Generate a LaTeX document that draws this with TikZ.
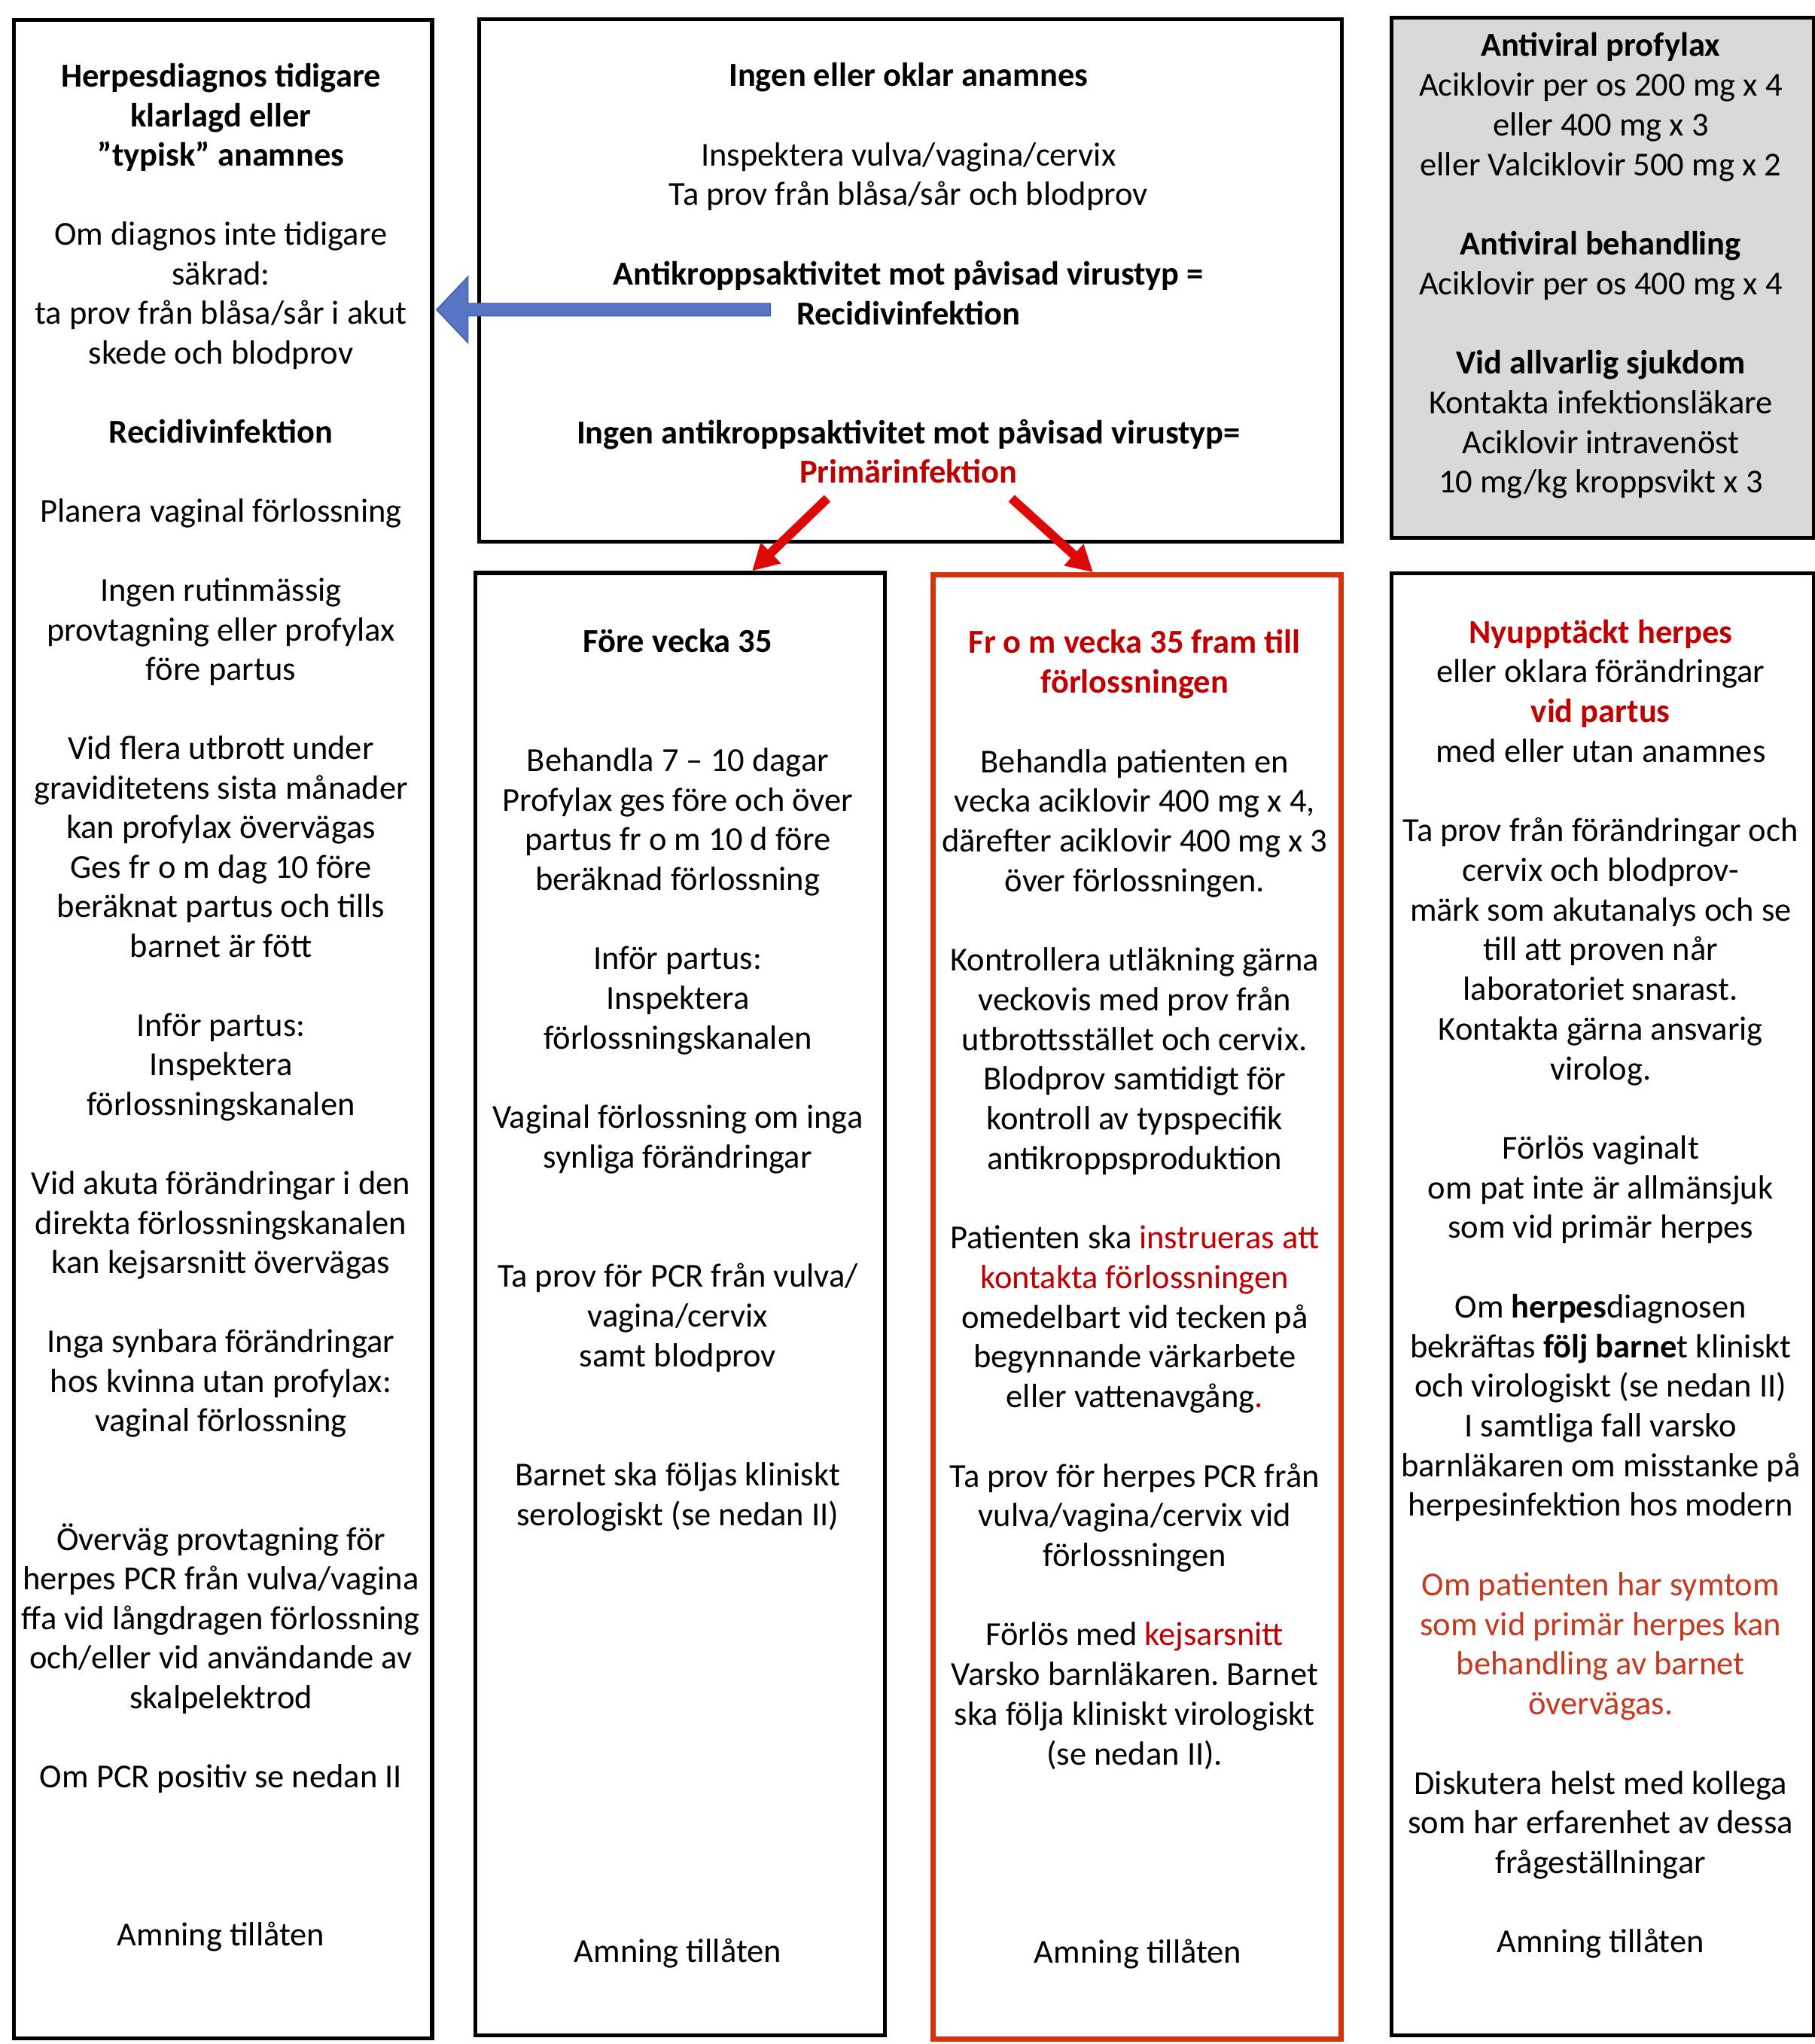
\documentclass[tikz,border=0pt]{standalone}
\usepackage{fontspec}
\setmainfont{Carlito}
\usetikzlibrary{arrows.meta,calc}
\frenchspacing
\definecolor{redtxt}{RGB}{192,0,0}
\definecolor{orangered}{RGB}{197,57,31}
\definecolor{redframe}{RGB}{214,50,14}
\definecolor{arrowred}{RGB}{222,8,8}
\definecolor{grayfill}{RGB}{217,217,217}
\definecolor{bluefill}{RGB}{88,117,196}
\definecolor{blueline}{RGB}{70,98,172}
\newlength\gapN \setlength\gapN{30.45pt}
\newlength\gapL \setlength\gapL{30.34pt}
\begin{document}
\begin{tikzpicture}[x=1pt,y=-1pt,
  box/.style={draw=black, line width=3pt, rectangle, inner sep=0pt, anchor=north west},
  txt/.style={anchor=north, inner sep=0pt, align=center,
    font={\fontsize{25.7}{30.45}\selectfont\frenchspacing}},
  txtL/.style={anchor=north, inner sep=0pt, align=center,
    font={\fontsize{25.7}{30.34}\selectfont\frenchspacing}},
  redarrow/.style={draw=arrowred, line width=7pt, -{Triangle[width=21pt,length=20pt]}},
]
\useasboundingbox (0,0) rectangle (1392,1568);

% boxes
\node[box, minimum width=321pt, minimum height=1548pt] (L) at (9,14) {};
\node[box, minimum width=662pt, minimum height=401pt] (T) at (366,13) {};
\node[box, fill=grayfill, minimum width=324pt, minimum height=399pt] (G) at (1066,12) {};
\node[box, minimum width=314.5pt, minimum height=1122pt] (M) at (363,438) {};
\node[box, draw=redframe, line width=4pt, minimum width=313pt, minimum height=1123pt] (R) at (714,439) {};
\node[box, minimum width=324pt, minimum height=1121.5pt] (Q) at (1066,438.5) {};

% texts
\node[txtL] (Ltxt) at (169.5,45.3) {\strut\textbf{Herpesdiagnos tidigare}\\
\textbf{klarlagd eller}\\
\textbf{”typisk” anamnes}\\[\gapL]
Om diagnos inte tidigare\\
säkrad:\\
ta prov från blåsa/sår i akut\\
skede och blodprov\\[\gapL]
\textbf{Recidivinfektion}\\[\gapL]
Planera vaginal förlossning\\[\gapL]
Ingen rutinmässig\\
provtagning eller profylax\\
före partus\\[\gapL]
Vid flera utbrott under\\
graviditetens sista månader\\
kan profylax övervägas\\
Ges fr o m dag 10 före\\
beräknat partus och tills\\
barnet är fött\\[\gapL]
Inför partus:\\
Inspektera\\
förlossningskanalen\\[\gapL]
Vid akuta förändringar i den\\
direkta förlossningskanalen\\
kan kejsarsnitt övervägas\\[\gapL]
Inga synbara förändringar\\
hos kvinna utan profylax:\\
vaginal förlossning\\[2\gapL]
Överväg provtagning för\\
herpes PCR från vulva/vagina\\
ffa vid långdragen förlossning\\
och/eller vid användande av\\
skalpelektrod\\[\gapL]
Om PCR positiv se nedan II\\[3\gapL]
Amning tillåten};

\node[txt] (Ttxt) at (697,44.7) {\strut\textbf{Ingen eller oklar anamnes}\\[\gapN]
Inspektera vulva/vagina/cervix\\
Ta prov från blåsa/sår och blodprov\\[\gapN]
\textbf{Antikroppsaktivitet mot påvisad virustyp =}\\
\textbf{Recidivinfektion}\\[2\gapN]
\textbf{Ingen antikroppsaktivitet mot påvisad virustyp=}\\
\textbf{\textcolor{redtxt}{Primärinfektion}}};

\node[txt] (Gtxt) at (1228,21.7) {\strut\textbf{Antiviral profylax}\\
Aciklovir per os 200 mg x 4\\
eller 400 mg x 3\\
eller Valciklovir 500 mg x 2\\[\gapN]
\textbf{Antiviral behandling}\\
Aciklovir per os 400 mg x 4\\[\gapN]
\textbf{Vid allvarlig sjukdom}\\
Kontakta infektionsläkare\\
Aciklovir intravenöst\\
10 mg/kg kroppsvikt x 3};

\node[txt] (Mtxt) at (520,478.7) {\strut\textbf{Före vecka 35}\\[2\gapN]
Behandla 7 – 10 dagar\\
Profylax ges före och över\\
partus fr o m 10 d före\\
beräknad förlossning\\[\gapN]
Inför partus:\\
Inspektera\\
förlossningskanalen\\[\gapN]
Vaginal förlossning om inga\\
synliga förändringar\\[2\gapN]
Ta prov för PCR från vulva/\\
vagina/cervix\\
samt blodprov\\[2\gapN]
Barnet ska följas kliniskt\\
serologiskt (se nedan II)\\[10\gapN]
Amning tillåten};

\node[txt] (Rtxt) at (870.5,479.7) {\strut\textcolor{redtxt}{\textbf{Fr o m vecka 35 fram till}}\\
\textcolor{redtxt}{\textbf{förlossningen}}\\[\gapN]
Behandla patienten en\\
vecka aciklovir 400 mg x 4,\\
därefter aciklovir 400 mg x 3\\
över förlossningen.\\[\gapN]
Kontrollera utläkning gärna\\
veckovis med prov från\\
utbrottsstället och cervix.\\
Blodprov samtidigt för\\
kontroll av typspecifik\\
antikroppsproduktion\\[\gapN]
Patienten ska \textcolor{redtxt}{instrueras att}\\
\textcolor{redtxt}{kontakta förlossningen}\\
omedelbart vid tecken på\\
begynnande värkarbete\\
eller vattenavgång\textcolor{redtxt}{.}\\[\gapN]
Ta prov för herpes PCR från\\
vulva/vagina/cervix vid\\
förlossningen\\[\gapN]
Förlös med \textcolor{redtxt}{kejsarsnitt}\\
Varsko barnläkaren. Barnet\\
ska följa kliniskt virologiskt\\
(se nedan II).\\[4\gapN]
\hspace*{5pt}Amning tillåten};

\node[txt] (Qtxt) at (1228,471.7) {\strut\textcolor{redtxt}{\textbf{Nyupptäckt herpes}}\\
eller oklara förändringar\\
\textcolor{redtxt}{\textbf{vid partus}}\\
med eller utan anamnes\\[\gapN]
Ta prov från förändringar och\\
cervix och blodprov-\\
märk som akutanalys och se\\
till att proven når\\
laboratoriet snarast.\\
Kontakta gärna ansvarig\\
virolog.\\[\gapN]
Förlös vaginalt\\
om pat inte är allmänsjuk\\
som vid primär herpes\\[\gapN]
Om \textbf{herpes}diagnosen\\
bekräftas \textbf{följ barne}t kliniskt\\
och virologiskt (se nedan II)\\
I samtliga fall varsko\\
barnläkaren om misstanke på\\
herpesinfektion hos modern\\[\gapN]
\textcolor{orangered}{Om patienten har symtom}\\
\textcolor{orangered}{som vid primär herpes kan}\\
\textcolor{orangered}{behandling av barnet}\\
\textcolor{orangered}{övervägas.}\\[\gapN]
Diskutera helst med kollega\\
som har erfarenhet av dessa\\
frågeställningar\\[\gapN]
Amning tillåten};

% blue arrow (from top box to left box)
\coordinate (btail) at (591,237.6);
\coordinate (btip) at ([xshift=2pt]L.east |- btail);
\filldraw[fill=bluefill, draw=blueline, line width=1pt]
  (btip) -- ($(btip)+(24,-25.3)$) -- ($(btip)+(24,-4.7)$) -- ($(btail)+(0,-4.7)$)
  -- ($(btail)+(0,4.7)$) -- ($(btip)+(24,4.7)$) -- ($(btip)+(24,25.3)$) -- cycle;

% red arrows
\coordinate (r1s) at (634.7,382.3);
\coordinate (r1e) at ($(M.north west)!0.674!(M.north east)$);
\coordinate (r2s) at (776,382.3);
\coordinate (r2e) at ($(R.north west)!0.393!(R.north east)$);
\draw[redarrow] (r1s) -- (r1e);
\draw[redarrow] (r2s) -- (r2e);
\end{tikzpicture}
\end{document}
